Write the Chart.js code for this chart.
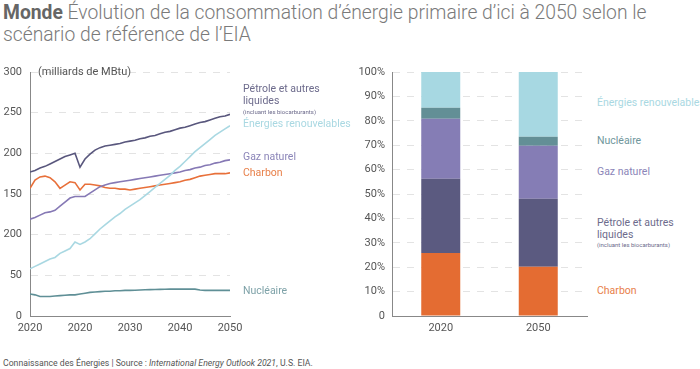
<!DOCTYPE html>
<html lang="fr">
<head>
<meta charset="utf-8">
<script src="https://cdn.jsdelivr.net/npm/chart.js@4"></script>
<style>
  body { margin: 0; background: #fff; font-family: Roboto, sans-serif; }
  #wrap { position: relative; width: 700px; height: 369px; overflow: hidden; }
  .abs { position: absolute; white-space: nowrap; }
  #title { left: 3px; top: 2px; font-size: 19.3px; line-height: 21.5px; color: #7a7a7a; font-weight: 300; }
  #title b { color: #666; font-weight: 700; }
  .lbl { font-size: 10.5px; line-height: 12px; font-weight: 400; }
  .small { font-size: 6px; line-height: 7px; }
  #footer { left: 3px; top: 358px; font-size: 8.7px; color: #555; }
</style>
</head>
<body>
<div id="wrap">
  <div id="title" class="abs"><b>Monde</b> Évolution de la consommation d’énergie primaire d’ici à 2050 selon le<br>scénario de référence de l’EIA</div>

  <canvas id="lineChart" class="abs" style="left:0;top:62px;width:250px;height:276px"></canvas>
  <canvas id="barChart" class="abs" style="left:340px;top:62px;width:257px;height:276px"></canvas>

  <div class="abs" style="left:38px;top:65px;font-size:11px;color:#555">(milliards de MBtu)</div>

  <div class="abs lbl" style="left:243px;top:83px;color:#6d6b8c">Pétrole et autres<br>liquides</div>
  <div class="abs small" style="left:243px;top:108px;color:#6d6b8c">(incluant les biocarburants)</div>
  <div class="abs lbl" style="left:243px;top:118px;color:#a9d8e2">Énergies renouvelables</div>
  <div class="abs lbl" style="left:243px;top:151px;color:#8b85b8">Gaz naturel</div>
  <div class="abs lbl" style="left:243px;top:167px;color:#e8804a">Charbon</div>
  <div class="abs lbl" style="left:243px;top:285px;color:#7ea2a8">Nucléaire</div>

  <div class="abs lbl" style="left:597px;top:97px;color:#a9d8e2">Énergies renouvelables</div>
  <div class="abs lbl" style="left:597px;top:135px;color:#6f969c">Nucléaire</div>
  <div class="abs lbl" style="left:597px;top:166px;color:#8b85b8">Gaz naturel</div>
  <div class="abs lbl" style="left:597px;top:217px;color:#6d6b8c">Pétrole et autres<br>liquides</div>
  <div class="abs small" style="left:597px;top:241px;color:#6d6b8c">(incluant les biocarburants)</div>
  <div class="abs lbl" style="left:597px;top:285px;color:#e8804a">Charbon</div>

  <div id="footer" class="abs">Connaissance des Énergies | Source : <i>International Energy Outlook 2021</i>, U.S. EIA.</div>
</div>

<script>
// years 2010..2050
const years = [2010, 2011, 2012, 2013, 2014, 2015, 2016, 2017, 2018, 2019,
  2020, 2021, 2022, 2023, 2024, 2025, 2026, 2027, 2028, 2029,
  2030, 2031, 2032, 2033, 2034, 2035, 2036, 2037, 2038, 2039,
  2040, 2041, 2042, 2043, 2044, 2045, 2046, 2047, 2048, 2049, 2050];

const petrole = [177, 179, 182, 184, 187, 190, 193, 196, 198, 200,
  183, 193, 199, 204, 207, 209, 210, 211, 212, 214,
  215, 216, 218, 219, 221, 222, 224, 226, 227, 229,
  231, 232, 234, 236, 238, 239, 241, 243, 245, 246, 248];

const renouvelables = [58, 61, 64, 67, 70, 72, 77, 80, 83, 91,
  88, 91, 95, 101, 107, 112, 117, 122, 126, 131,
  135, 139, 143, 148, 153, 158, 163, 168, 173, 179,
  184, 190, 196, 202, 207, 212, 217, 222, 226, 230, 234];

const gaz = [119, 121, 124, 127, 128, 130, 135, 140, 145, 147,
  147, 147, 151, 155, 159, 161, 163, 164, 165, 166,
  167, 168, 169, 170, 171, 172, 173, 174, 175, 176,
  177, 179, 180, 182, 183, 185, 186, 188, 189, 191, 192];

const charbon = [157, 167, 171, 172, 170, 165, 157, 161, 165, 164,
  155, 162, 162, 161, 160, 158, 157, 157, 156, 156,
  155, 156, 157, 158, 159, 160, 161, 162, 163, 164,
  165, 167, 168, 170, 172, 173, 174, 175, 175, 175, 176];

const nucleaire = [27, 26, 24, 24, 24, 24.5, 25, 25.5, 26, 26,
  27, 28, 29, 29.5, 30, 30.5, 30.5, 31, 31, 31.5,
  31.5, 31.7, 32, 32.2, 32.4, 32.5, 32.7, 32.8, 33, 33,
  33, 33, 33, 33, 32, 31.5, 31.5, 31.5, 31.5, 31.5, 31.5];

const xTickLabels = ['2020', '2020', '2030', '2040', '2050'];
const yTickLabels = ['0', '50', '200', '150', '200', '250', '300'];

// 100% stacked shares (bottom to top)
const barYears = ['2020', '2050'];
const shareCharbon = [25.8, 20.2];
const sharePetrole = [30.5, 27.9];
const shareGaz = [24.5, 21.7];
const shareNucleaire = [4.5, 3.7];
const shareRenouvelables = [14.7, 26.5];

Chart.defaults.font.family = 'Roboto, sans-serif';
Chart.defaults.font.size = 11;
Chart.defaults.color = '#666';
Chart.defaults.animation = false;

const gridDash = { color: '#e3e3e3', lineWidth: 1, drawTicks: false };
const noLegend = { legend: { display: false }, tooltip: { enabled: false } };

// fixed axis sizes, no extra room for overflowing tick labels
function fixSize(w, h) {
  return s => {
    if (w) s.width = w;
    if (h) s.height = h;
    s.paddingLeft = s.paddingRight = s.paddingTop = s.paddingBottom = 0;
  };
}

function toPoints(values) {
  return values.map((v, i) => ({ x: years[i], y: v }));
}

function lineSet(values, color) {
  return { data: toPoints(values), borderColor: color, borderWidth: 1.6, pointRadius: 0, tension: 0, fill: false };
}

new Chart(document.getElementById('lineChart'), {
  type: 'line',
  data: {
    datasets: [
      lineSet(petrole, '#59577d'),
      lineSet(renouvelables, '#a9d8e2'),
      lineSet(gaz, '#8679b5'),
      lineSet(charbon, '#e8703a'),
      lineSet(nucleaire, '#5f8f96')
    ]
  },
  options: {
    responsive: false,
    maintainAspectRatio: false,
    layout: { padding: { top: 10, right: 20, left: 0, bottom: 0 } },
    plugins: noLegend,
    scales: {
      x: {
        type: 'linear', min: 2010, max: 2050,
        afterFit: fixSize(0, 22),
        grid: { display: false, drawTicks: false },
        border: { color: '#888', width: 1 },
        ticks: { stepSize: 10, padding: 6, color: '#555', maxRotation: 0,
          callback: (v, i) => xTickLabels[i] }
      },
      y: {
        min: 0, max: 300,
        afterFit: fixSize(30, 0),
        grid: gridDash,
        border: { color: '#888', width: 1, dash: [7, 7] },
        ticks: { stepSize: 50, padding: 8, color: '#555',
          callback: (v, i) => yTickLabels[i] }
      }
    }
  }
});

function barSet(values, color) {
  return { data: values, backgroundColor: color, borderWidth: 0, barPercentage: 0.4, categoryPercentage: 1 };
}

new Chart(document.getElementById('barChart'), {
  type: 'bar',
  data: {
    labels: barYears,
    datasets: [
      barSet(shareCharbon, '#e46c32'),
      barSet(sharePetrole, '#5b5a80'),
      barSet(shareGaz, '#857db5'),
      barSet(shareNucleaire, '#638f96'),
      barSet(shareRenouvelables, '#a7d8e2')
    ]
  },
  options: {
    responsive: false,
    maintainAspectRatio: false,
    layout: { padding: { top: 10, right: 10, left: 0, bottom: 0 } },
    plugins: noLegend,
    scales: {
      x: {
        stacked: true,
        afterFit: fixSize(0, 22),
        grid: { display: false, drawTicks: false },
        border: { color: '#888', width: 1 },
        ticks: { padding: 6, color: '#555' }
      },
      y: {
        stacked: true, min: 0, max: 100,
        afterFit: fixSize(52, 0),
        grid: gridDash,
        border: { color: '#888', width: 1, dash: [7, 7] },
        ticks: { stepSize: 10, padding: 7, color: '#555',
          callback: v => v === 0 ? '0' : v + '%' }
      }
    }
  }
});
</script>
</body>
</html>
